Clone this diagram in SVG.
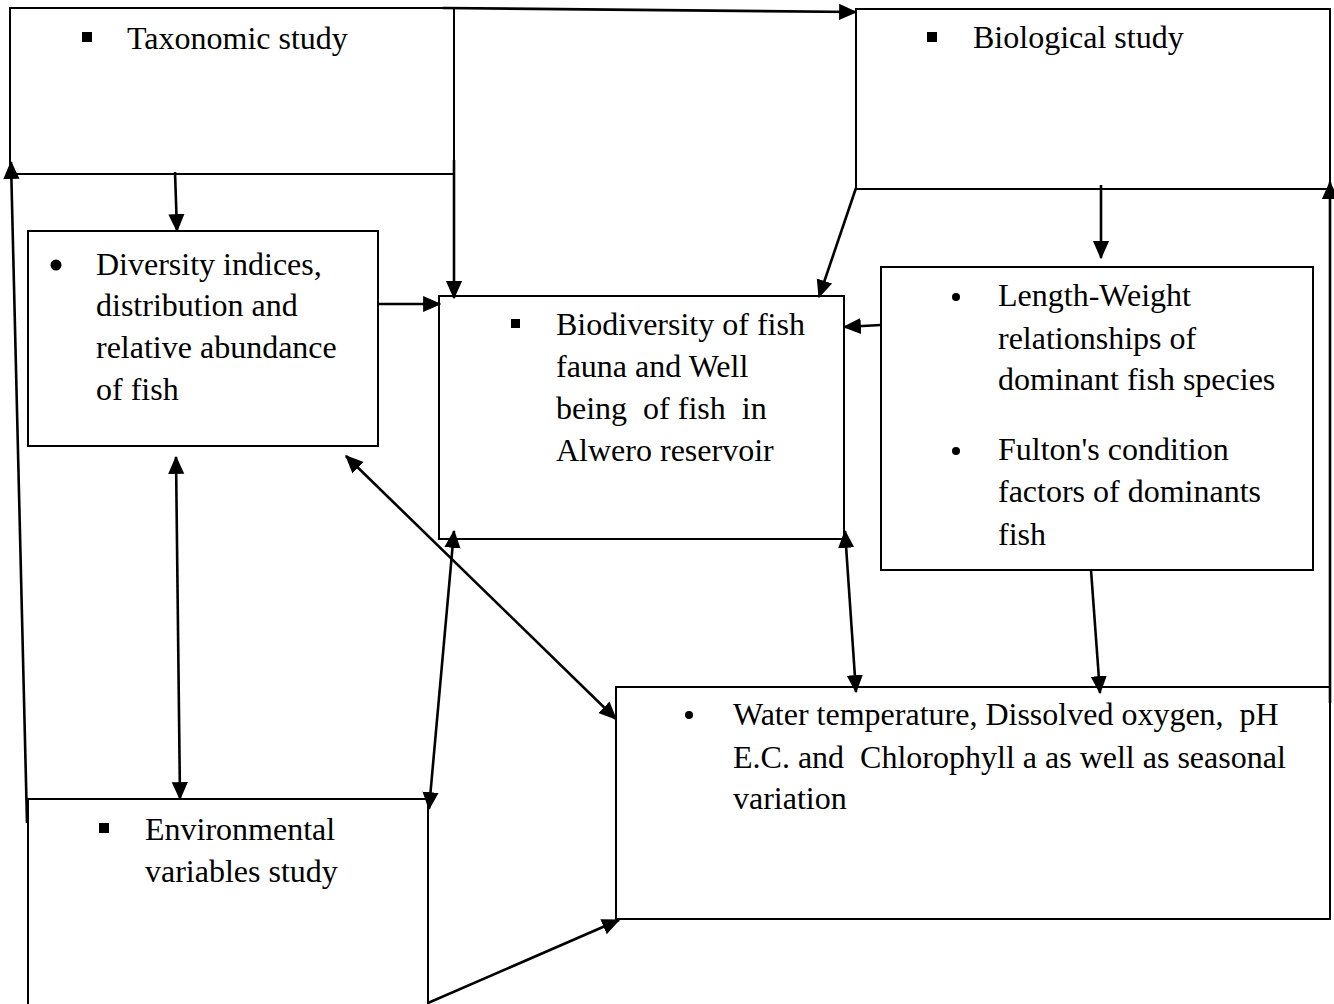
<svg xmlns="http://www.w3.org/2000/svg" width="1334" height="1004" viewBox="0 0 1334 1004">
<style>
.box{fill:#fff;stroke:#000;stroke-width:2}
.t{font-family:"Liberation Serif","Times New Roman",serif;font-size:32px;fill:#000;white-space:pre}
.c{stroke:#000;stroke-width:2.6;fill:none}
.b{fill:#000}
</style>
<defs>
<marker id="ah" refX="6.5" refY="3.5" markerWidth="7" markerHeight="7" orient="auto-start-reverse">
<path d="M0,0.4 L7,3.5 L0,6.6 z" fill="#000" stroke="none"/>
</marker>
</defs>
<rect width="1334" height="1004" fill="#fff"/>
<g id="taxonomic">
<rect class="box" x="10" y="8" width="444" height="166"/>
<rect class="b" x="82" y="32" width="10" height="10"/>
<text class="t" x="127" y="49">Taxonomic study</text>
</g>
<g id="biological">
<rect class="box" x="856" y="9" width="474" height="180"/>
<rect class="b" x="927" y="32" width="10" height="10"/>
<text class="t" x="973" y="48">Biological study</text>
</g>
<g id="diversity">
<rect class="box" x="28" y="231" width="350" height="215"/>
<circle class="b" cx="56" cy="265" r="5.5"/>
<text class="t" x="96" y="275">Diversity indices,</text>
<text class="t" x="96" y="316">distribution and</text>
<text class="t" x="96" y="358">relative abundance</text>
<text class="t" x="96" y="400">of fish</text>
</g>
<g id="biodiversity">
<rect class="box" x="439" y="296" width="405" height="243"/>
<rect class="b" x="511" y="319" width="9" height="9"/>
<text class="t" x="556" y="335">Biodiversity of fish</text>
<text class="t" x="556" y="377">fauna and Well</text>
<text class="t" x="556" y="419">being  of fish  in</text>
<text class="t" x="556" y="461">Alwero reservoir</text>
</g>
<g id="lengthweight">
<rect class="box" x="881" y="267" width="432" height="303"/>
<circle class="b" cx="956" cy="297" r="4"/>
<text class="t" x="998" y="306">Length-Weight</text>
<text class="t" x="998" y="349">relationships of</text>
<text class="t" x="998" y="390">dominant fish species</text>
<circle class="b" cx="956" cy="451" r="4"/>
<text class="t" x="998" y="460">Fulton's condition</text>
<text class="t" x="998" y="502">factors of dominants</text>
<text class="t" x="998" y="545">fish</text>
</g>
<g id="water">
<rect class="box" x="616" y="687" width="714" height="232"/>
<circle class="b" cx="689" cy="715" r="4"/>
<text class="t" x="733" y="725">Water temperature, Dissolved oxygen,  pH</text>
<text class="t" x="733" y="768">E.C. and  Chlorophyll a as well as seasonal</text>
<text class="t" x="733" y="809">variation</text>
</g>
<g id="environmental">
<rect class="box" x="28" y="799" width="400" height="215"/>
<rect class="b" x="99" y="823" width="10" height="10"/>
<text class="t" x="145" y="840">Environmental</text>
<text class="t" x="145" y="882">variables study</text>
</g>
<g id="connectors">
<line class="c" x1="443" y1="8" x2="856" y2="12" marker-end="url(#ah)"/>
<line class="c" x1="454" y1="160" x2="454" y2="298" marker-end="url(#ah)"/>
<line class="c" x1="175" y1="172" x2="177" y2="231" marker-end="url(#ah)"/>
<line class="c" x1="378" y1="304" x2="440" y2="304" marker-end="url(#ah)"/>
<line class="c" x1="856" y1="188" x2="819" y2="297" marker-end="url(#ah)"/>
<line class="c" x1="1101" y1="185" x2="1101" y2="258" marker-end="url(#ah)"/>
<line class="c" x1="881" y1="325" x2="844" y2="327" marker-end="url(#ah)"/>
<line class="c" x1="1330" y1="703" x2="1330" y2="182" marker-end="url(#ah)"/>
<line class="c" x1="27" y1="823" x2="11" y2="162" marker-end="url(#ah)"/>
<line class="c" x1="176" y1="457" x2="180" y2="799" marker-start="url(#ah)" marker-end="url(#ah)"/>
<line class="c" x1="454" y1="531" x2="429" y2="809" marker-start="url(#ah)" marker-end="url(#ah)"/>
<line class="c" x1="346" y1="456" x2="616" y2="719" marker-start="url(#ah)" marker-end="url(#ah)"/>
<line class="c" x1="845" y1="531" x2="856" y2="692" marker-start="url(#ah)" marker-end="url(#ah)"/>
<line class="c" x1="1091" y1="570" x2="1100" y2="693" marker-end="url(#ah)"/>
<line class="c" x1="428" y1="1003" x2="619" y2="920" marker-end="url(#ah)"/>
</g>
</svg>
